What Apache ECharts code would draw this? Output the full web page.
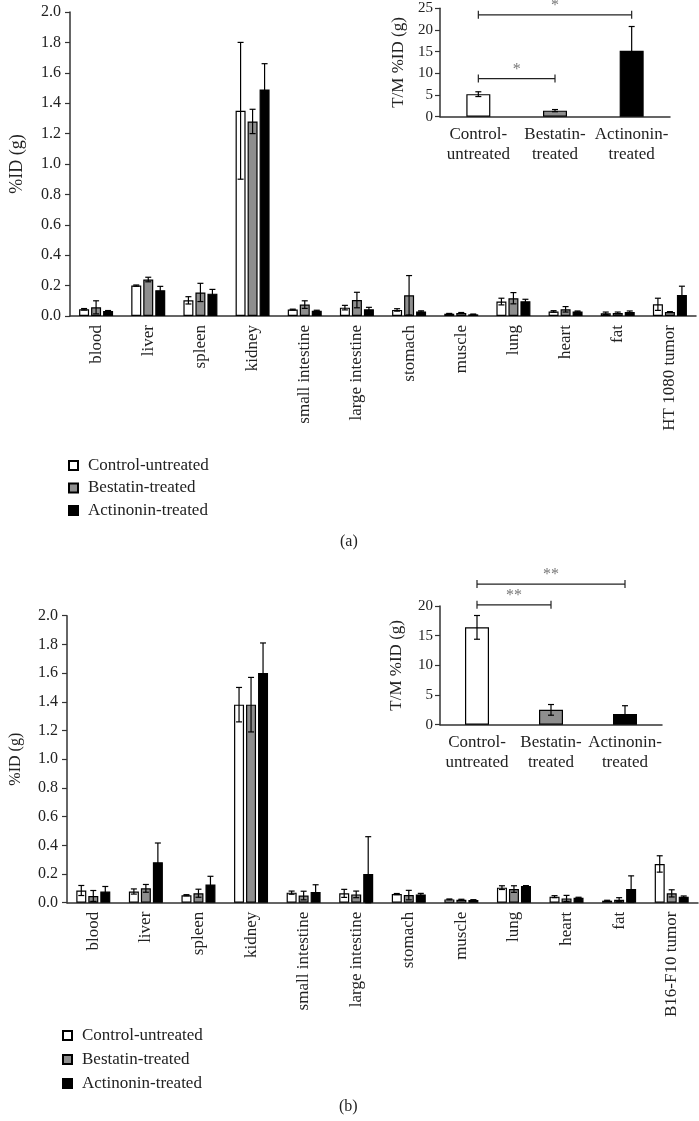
<!DOCTYPE html>
<html>
<head>
<meta charset="utf-8">
<script src="https://cdn.jsdelivr.net/npm/echarts@6.0.0/dist/echarts.min.js"></script>
<style>
  html, body { margin: 0; padding: 0; background: #fff; }
  #chart { width: 699px; height: 1121px; }
</style>
</head>
<body>
<div id="chart"></div>
<script>
// organs for each panel
const organsA = ['blood', 'liver', 'spleen', 'kidney', 'small intestine', 'large intestine', 'stomach', 'muscle', 'lung', 'heart', 'fat', 'HT 1080 tumor']
const organsB = ['blood', 'liver', 'spleen', 'kidney', 'small intestine', 'large intestine', 'stomach', 'muscle', 'lung', 'heart', 'fat', 'B16-F10 tumor']
const groups = ['Control-untreated', 'Bestatin-treated', 'Actinonin-treated']
const insetLabels = ['Control-\nuntreated', 'Bestatin-\ntreated', 'Actinonin-\ntreated']

// panel (a) %ID (g)
const controlA = [0.044, 0.200, 0.103, 1.35, 0.042, 0.055, 0.040, 0.015, 0.095, 0.030, 0.018, 0.077]
const controlAErr = [0.005, 0.004, 0.024, 0.45, 0.003, 0.015, 0.008, 0.002, 0.022, 0.005, 0.008, 0.040]
const bestatinA = [0.057, 0.240, 0.155, 1.28, 0.075, 0.105, 0.136, 0.020, 0.117, 0.044, 0.020, 0.026]
const bestatinAErr = [0.043, 0.015, 0.060, 0.08, 0.025, 0.051, 0.130, 0.003, 0.037, 0.018, 0.006, 0.003]
const actinoninA = [0.033, 0.170, 0.147, 1.49, 0.035, 0.044, 0.030, 0.011, 0.097, 0.030, 0.026, 0.138]
const actinoninAErr = [0.003, 0.025, 0.028, 0.17, 0.003, 0.013, 0.004, 0.002, 0.013, 0.003, 0.007, 0.058]

// panel (b) %ID (g)
const controlB = [0.085, 0.078, 0.052, 1.38, 0.070, 0.065, 0.060, 0.023, 0.105, 0.042, 0.014, 0.270]
const controlBErr = [0.035, 0.018, 0.004, 0.12, 0.011, 0.028, 0.004, 0.003, 0.013, 0.007, 0.003, 0.057]
const bestatinB = [0.047, 0.100, 0.066, 1.38, 0.050, 0.058, 0.053, 0.021, 0.095, 0.030, 0.021, 0.065]
const bestatinBErr = [0.038, 0.027, 0.028, 0.19, 0.030, 0.023, 0.033, 0.003, 0.023, 0.021, 0.014, 0.025]
const actinoninB = [0.078, 0.282, 0.127, 1.60, 0.074, 0.200, 0.058, 0.019, 0.116, 0.035, 0.096, 0.042]
const actinoninBErr = [0.035, 0.134, 0.057, 0.21, 0.051, 0.260, 0.007, 0.002, 0.003, 0.003, 0.091, 0.005]

// insets: tumor / muscle ratio
const tmA = [5.2, 1.4, 15.2]
const tmAErr = [0.55, 0.25, 5.6]
const tmB = [16.4, 2.5, 1.8]
const tmBErr = [2.0, 0.9, 1.4]

// significance brackets [from, to, height] and their marks
const bracketsA = [[0, 1, 8.8], [0, 2, 23.5]]
const starsA = ['*', '*']
const bracketsB = [[0, 1, 20.2], [0, 2, 23.7]]
const starsB = ['**', '**']

const FONT = 'Liberation Serif'
const fills = ['#ffffff', '#8e8e8e', '#000000']
const axisColor = '#333'
const BAR_W = 10
const BAR_STEP = 12

function barSeries (name, data, fill, ax) {
  return {
    name: name,
    type: 'bar',
    xAxisIndex: ax,
    yAxisIndex: ax,
    data: data,
    barWidth: BAR_W,
    barGap: '20%',
    itemStyle: { color: fill, borderColor: '#000', borderWidth: 1.2 }
  }
}

function errSeries (values, errs, offset, ax) {
  return {
    type: 'custom',
    xAxisIndex: ax,
    yAxisIndex: ax,
    z: 5,
    silent: true,
    data: values.map((v, i) => [i, v, errs[i]]),
    encode: { x: 0, y: 1 },
    renderItem: function (params, api) {
      let i = api.value(0)
      let v = api.value(1)
      let e = api.value(2)
      let top = api.coord([i, v + e])
      let bot = api.coord([i, Math.max(0, v - e)])
      let x = top[0] + offset
      let style = { stroke: '#000', lineWidth: 1.2 }
      return {
        type: 'group',
        children: [
          { type: 'line', shape: { x1: x, y1: top[1], x2: x, y2: bot[1] }, style: style },
          { type: 'line', shape: { x1: x - 3, y1: top[1], x2: x + 3, y2: top[1] }, style: style },
          { type: 'line', shape: { x1: x - 3, y1: bot[1], x2: x + 3, y2: bot[1] }, style: style }
        ]
      }
    }
  }
}

function bracketSeries (data, stars, ax) {
  return {
    type: 'custom',
    xAxisIndex: ax,
    yAxisIndex: ax,
    silent: true,
    clip: false,
    data: data,
    encode: { x: [0, 1], y: 2 },
    renderItem: function (params, api) {
      let p1 = api.coord([api.value(0), api.value(2)])
      let p2 = api.coord([api.value(1), api.value(2)])
      let style = { stroke: '#222', lineWidth: 1.2 }
      return {
        type: 'group',
        children: [
          { type: 'line', shape: { x1: p1[0], y1: p1[1], x2: p2[0], y2: p2[1] }, style: style },
          { type: 'line', shape: { x1: p1[0], y1: p1[1] - 4, x2: p1[0], y2: p1[1] + 4 }, style: style },
          { type: 'line', shape: { x1: p2[0], y1: p2[1] - 4, x2: p2[0], y2: p2[1] + 4 }, style: style },
          {
            type: 'text',
            x: (p1[0] + p2[0]) / 2,
            y: p1[1] - 1,
            style: { text: stars[params.dataIndex], fill: '#777', font: '16px ' + FONT, align: 'center', verticalAlign: 'bottom' }
          }
        ]
      }
    }
  }
}

function insetBars (data, ax) {
  return {
    type: 'bar',
    xAxisIndex: ax,
    yAxisIndex: ax,
    barWidth: 24,
    data: data.map((v, i) => ({ value: v, itemStyle: { color: fills[i] } })),
    itemStyle: { borderColor: '#000', borderWidth: 1.2 }
  }
}

function catAxis (grid, cats, fontSize, rotate, margin) {
  return {
    type: 'category',
    gridIndex: grid,
    data: cats,
    axisLine: { lineStyle: { color: axisColor, width: 1.5 } },
    axisTick: { alignWithLabel: true, length: 5, lineStyle: { color: axisColor, width: 1.2 } },
    axisLabel: { rotate: rotate, margin: margin, color: '#222', fontFamily: FONT, fontSize: fontSize, lineHeight: 20, interval: 0 }
  }
}

function valAxis (grid, max, interval, name, nameSize, nameGap, decimals, labelSize, labelMargin) {
  return {
    type: 'value',
    gridIndex: grid,
    min: 0,
    max: max,
    interval: interval,
    name: name,
    nameLocation: 'middle',
    nameGap: nameGap,
    nameTextStyle: { fontFamily: FONT, fontSize: nameSize, color: '#222' },
    splitLine: { show: false },
    axisLine: { show: true, lineStyle: { color: axisColor, width: 1.5 } },
    axisTick: { show: true, length: 5, lineStyle: { color: axisColor, width: 1.2 } },
    axisLabel: {
      margin: labelMargin,
      color: '#222',
      fontFamily: FONT,
      fontSize: labelSize,
      formatter: v => v.toFixed(decimals)
    }
  }
}

function legendAt (top, left, gap) {
  return {
    orient: 'vertical',
    left: left,
    top: top,
    padding: 0,
    itemWidth: 9,
    itemHeight: 9,
    itemGap: gap,
    icon: 'rect',
    selectedMode: false,
    data: groups,
    textStyle: { fontFamily: FONT, fontSize: 17, color: '#222', padding: [0, 0, 0, 5] }
  }
}

let myChart = echarts.init(document.getElementById('chart'))
let option = {
  animation: false,
  textStyle: { fontFamily: FONT },
  grid: [
    { left: 68, top: 12, width: 628, height: 304 },
    { left: 440, top: 8.3, width: 230, height: 108.4 },
    { left: 62, top: 615.7, width: 636, height: 287 },
    { left: 440, top: 606, width: 222, height: 118.7 }
  ],
  xAxis: [
    catAxis(0, organsA, 17, 90, 9),
    catAxis(1, insetLabels, 17, 0, 8),
    catAxis(2, organsB, 17, 90, 9),
    catAxis(3, insetLabels, 17, 0, 8)
  ],
  yAxis: [
    valAxis(0, 2.0, 0.2, '%ID (g)', 18, 44, 1, 16, 9),
    valAxis(1, 25, 5, 'T/M %ID (g)', 17, 33, 0, 15, 7),
    valAxis(2, 2.0, 0.2, '%ID (g)', 16, 43, 1, 16, 9),
    valAxis(3, 20, 5, 'T/M %ID (g)', 17, 35, 0, 15, 7)
  ],
  legend: [legendAt(457, 68, 5.5), legendAt(1027, 62, 7)],
  graphic: [
    { type: 'text', left: 340, top: 534, style: { text: '(a)', font: '16px ' + FONT, fill: '#222' } },
    { type: 'text', left: 339, top: 1099, style: { text: '(b)', font: '16px ' + FONT, fill: '#222' } }
  ],
  series: [
    barSeries(groups[0], controlA, fills[0], 0),
    barSeries(groups[1], bestatinA, fills[1], 0),
    barSeries(groups[2], actinoninA, fills[2], 0),
    errSeries(controlA, controlAErr, -BAR_STEP, 0),
    errSeries(bestatinA, bestatinAErr, 0, 0),
    errSeries(actinoninA, actinoninAErr, BAR_STEP, 0),
    insetBars(tmA, 1),
    errSeries(tmA, tmAErr, 0, 1),
    bracketSeries(bracketsA, starsA, 1),
    barSeries(groups[0], controlB, fills[0], 2),
    barSeries(groups[1], bestatinB, fills[1], 2),
    barSeries(groups[2], actinoninB, fills[2], 2),
    errSeries(controlB, controlBErr, -BAR_STEP, 2),
    errSeries(bestatinB, bestatinBErr, 0, 2),
    errSeries(actinoninB, actinoninBErr, BAR_STEP, 2),
    insetBars(tmB, 3),
    errSeries(tmB, tmBErr, 0, 3),
    bracketSeries(bracketsB, starsB, 3)
  ]
}
myChart.setOption(option)
</script>
</body>
</html>
